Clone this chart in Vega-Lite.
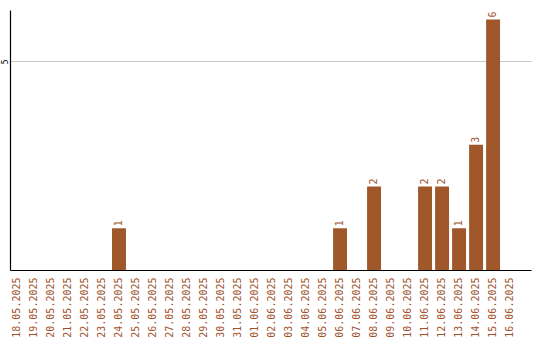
{
  "$schema": "https://vega.github.io/schema/vega-lite/v6.json",
  "width": 521,
  "height": 260,
  "autosize": {"type": "none"},
  "padding": {"left": 10, "top": 10, "right": 9, "bottom": 70},
  "background": "white",
  "config": {"view": {"stroke": null}},
  "data": {
    "values": [
      {"date": "18.05.2025", "count": 0},
      {"date": "19.05.2025", "count": 0},
      {"date": "20.05.2025", "count": 0},
      {"date": "21.05.2025", "count": 0},
      {"date": "22.05.2025", "count": 0},
      {"date": "23.05.2025", "count": 0},
      {"date": "24.05.2025", "count": 1},
      {"date": "25.05.2025", "count": 0},
      {"date": "26.05.2025", "count": 0},
      {"date": "27.05.2025", "count": 0},
      {"date": "28.05.2025", "count": 0},
      {"date": "29.05.2025", "count": 0},
      {"date": "30.05.2025", "count": 0},
      {"date": "31.05.2025", "count": 0},
      {"date": "01.06.2025", "count": 0},
      {"date": "02.06.2025", "count": 0},
      {"date": "03.06.2025", "count": 0},
      {"date": "04.06.2025", "count": 0},
      {"date": "05.06.2025", "count": 0},
      {"date": "06.06.2025", "count": 1},
      {"date": "07.06.2025", "count": 0},
      {"date": "08.06.2025", "count": 2},
      {"date": "09.06.2025", "count": 0},
      {"date": "10.06.2025", "count": 0},
      {"date": "11.06.2025", "count": 2},
      {"date": "12.06.2025", "count": 2},
      {"date": "13.06.2025", "count": 1},
      {"date": "14.06.2025", "count": 3},
      {"date": "15.06.2025", "count": 6},
      {"date": "16.06.2025", "count": 0}
    ]
  },
  "encoding": {
    "x": {
      "field": "date",
      "type": "ordinal",
      "sort": null,
      "scale": {"paddingInner": 0.18, "paddingOuter": 0.41, "align": 0},
      "axis": {
        "title": null,
        "labelAngle": -90,
        "labelColor": "#A0522D",
        "labelFont": "DejaVu Sans Mono",
        "labelFontSize": 10,
        "labelPadding": 7,
        "ticks": false,
        "domainColor": "#000000",
        "domainWidth": 1.2,
        "grid": false
      }
    },
    "y": {
      "field": "count",
      "type": "quantitative",
      "scale": {"domain": [0, 6.23], "nice": false},
      "axis": {
        "title": null,
        "values": [5],
        "labelAngle": -90,
        "labelFont": "DejaVu Sans Mono",
        "labelFontSize": 8,
        "labelColor": "#000000",
        "labelPadding": 1,
        "ticks": false,
        "domainColor": "#000000",
        "domainWidth": 1.2,
        "grid": true,
        "gridColor": "#c8c8c8",
        "gridWidth": 1
      }
    }
  },
  "layer": [
    {
      "mark": {"type": "bar", "color": "#A0572A"}
    },
    {
      "transform": [{"filter": "datum.count > 0"}],
      "mark": {
        "type": "text",
        "angle": -90,
        "align": "left",
        "baseline": "middle",
        "dx": 2,
        "font": "DejaVu Sans Mono",
        "fontSize": 10,
        "color": "#A0522D"
      },
      "encoding": {"text": {"field": "count", "type": "quantitative"}}
    }
  ]
}
